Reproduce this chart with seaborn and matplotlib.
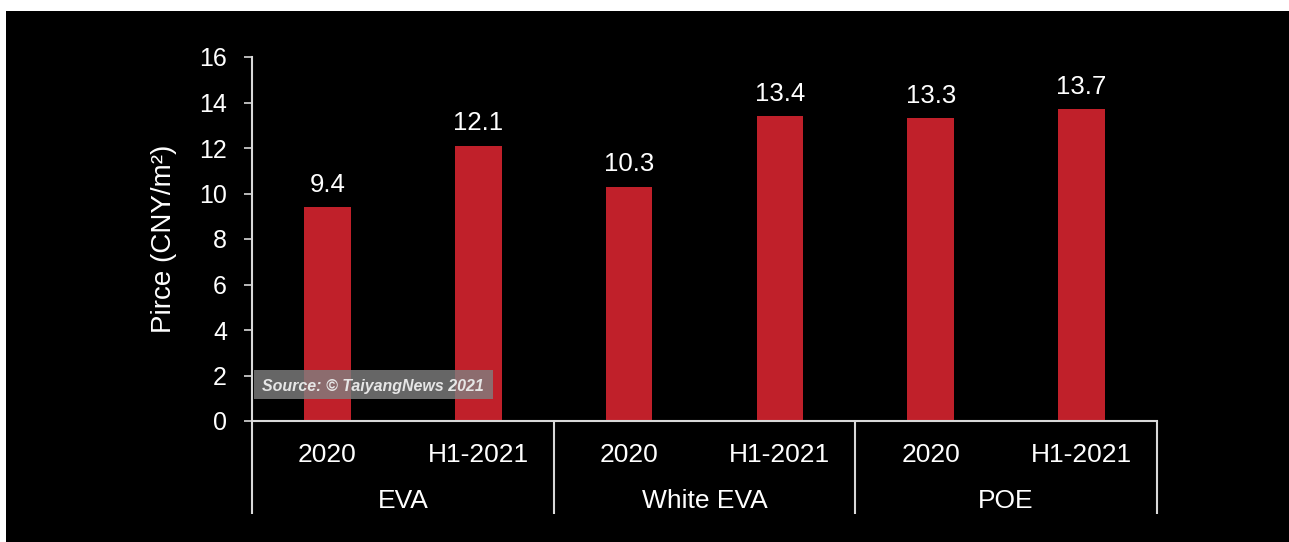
import matplotlib
matplotlib.use("Agg")
import matplotlib.pyplot as plt
import matplotlib.transforms as mtransforms
from matplotlib.patches import Rectangle
import pandas as pd
import seaborn as sns

# Encapsulant prices by material and period
materials = ["EVA", "White EVA", "POE"]
periods = ["2020", "H1-2021"]
prices = {
    "EVA": [9.4, 12.1],
    "White EVA": [10.3, 13.4],
    "POE": [13.3, 13.7],
}
y_ticks = [0, 2, 4, 6, 8, 10, 12, 14, 16]
y_label = "Pirce (CNY/m²)"
source_note = "Source: © TaiyangNews 2021"

rows = []
for m in materials:
    for p, v in zip(periods, prices[m]):
        rows.append({"material": m, "period": p, "slot": f"{m} {p}", "price": v})
df = pd.DataFrame(rows)

sns.set_theme(style="dark")
plt.rcParams["font.family"] = ["Liberation Sans", "DejaVu Sans"]

W, H, DPI = 1289, 542, 100
fig = plt.figure(figsize=(W / DPI, H / DPI), dpi=DPI, facecolor="white")
# black panel behind the chart
fig.patches.append(Rectangle((6 / W, 0), 1, (H - 11) / H, transform=fig.transFigure,
                             facecolor="black", edgecolor="none", zorder=-10))

ax_left, ax_right = 252 / W, 1157 / W
ax_bottom, ax_top = (H - 421) / H, (H - 57) / H
ax = fig.add_axes([ax_left, ax_bottom, ax_right - ax_left, ax_top - ax_bottom])
ax.set_facecolor("none")
ax.set_zorder(1)

bar_color = "#c0202a"
line_color = "#d9d9d9"
sns.barplot(data=df, x="slot", y="price", color=bar_color, width=0.31,
            saturation=1, linewidth=0, edgecolor="none", ax=ax, zorder=2)

ax.set_xlim(-0.5, len(df) - 0.5)
ax.set_ylim(0, 16)
ax.set_yticks(y_ticks)
ax.set_yticklabels([str(t) for t in y_ticks])
ax.tick_params(axis="y", colors="white", labelsize=18, length=6, width=1.2,
               color=line_color, pad=12, direction="out", left=True)
ax.set_xticks([])
ax.set_xlabel("")
ax.set_ylabel(y_label, color="white", fontsize=20)
ax.yaxis.set_label_coords(-0.083, 0.5)
ax.grid(False)

for side in ["top", "right"]:
    ax.spines[side].set_visible(False)
for side in ["left", "bottom"]:
    ax.spines[side].set_visible(True)
    ax.spines[side].set_color(line_color)
    ax.spines[side].set_linewidth(1.5)

# value labels above bars
for i, v in enumerate(df["price"]):
    ax.annotate(f"{v:.1f}", xy=(i, v), xytext=(0, 11), textcoords="offset points",
                ha="center", va="baseline", color="white", fontsize=18.5)

# two-level category axis
trans = mtransforms.blended_transform_factory(ax.transData, ax.transAxes)
px = 1 / 364.0
for i, p in enumerate(df["period"]):
    ax.text(i, -41 * px, p, transform=trans, ha="center", va="baseline",
            color="white", fontsize=19)
n_per = len(periods)
for g, m in enumerate(materials):
    center = g * n_per + (n_per - 1) / 2
    ax.text(center, -87 * px, m, transform=trans, ha="center", va="baseline",
            color="white", fontsize=19)
for b in range(len(materials) + 1):
    xb = b * n_per - 0.5
    ax.plot([xb, xb], [0, -93 * px], transform=trans, color=line_color,
            lw=1.5, clip_on=False, solid_capstyle="butt")

# source note
fig.patches.append(Rectangle((254 / W, (H - 399) / H), (493 - 254) / W, 29 / H,
                             transform=fig.transFigure, facecolor="#808080",
                             alpha=0.8, edgecolor="none", zorder=5))
fig.text(262 / W, (H - 391) / H, source_note, color="#e6e6e6", fontsize=11.5,
         fontweight="bold", fontstyle="italic", ha="left", va="baseline", zorder=6)

fig.savefig("out.png", dpi=DPI, facecolor=fig.get_facecolor())
